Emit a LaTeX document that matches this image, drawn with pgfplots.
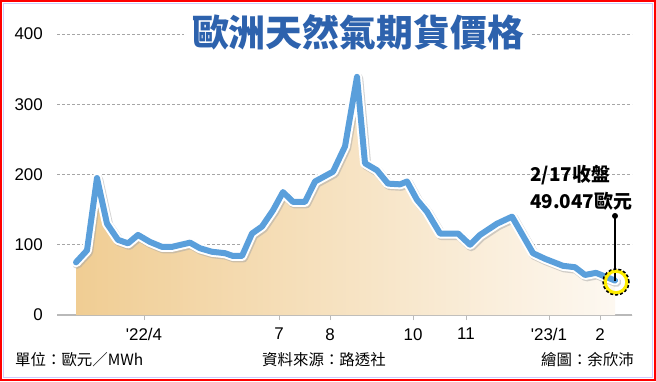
\documentclass[border=0pt]{standalone}
\usepackage{fontspec}
\setmainfont{Liberation Sans}
\newfontfamily\cjk{Noto Sans CJK TC}
\usepackage{pgfplots}
\pgfplotsset{compat=1.18}
\definecolor{lineblue}{HTML}{5A9FDB}
\definecolor{titleblue}{HTML}{2D62AD}
\definecolor{fillL}{HTML}{F0CD93}
\definecolor{fillR}{HTML}{FDF8F1}
\pgfplotstableread{
x y
76 75
87 92
97 195
107 130
118 107
128 102
138 114
150 104
162 97
172 97
190 103
200 95
212 90
225 88
233 84
242 84
252 116
262 126
273 149
283 175
293 161
305 161
315 190
333 204
345 240
357 339
365 216
377 206
388 187
400 186
407 190
417 164
427 147
440 116
458 116
470 100
480 114
497 130
512 140
533 88
545 80
563 70
575 68
585 57
596 60
615 49.047
}\gasdata
\begin{document}
\begin{tikzpicture}[x=1bp,y=1bp]
\useasboundingbox (0,0) rectangle (656,381);
\fill[white] (0,0) rectangle (656,381);
\begin{axis}[
  at={(57bp,66bp)}, anchor=south west,
  scale only axis, width=575bp, height=281bp,
  xmin=57, xmax=632, ymin=0, ymax=400,
  axis x line*=bottom, axis y line*=left,
  y axis line style={draw=none},
  x axis line style={draw=gray!55, line width=1.5bp},
  ytick={0,100,200,300,400},
  ytick style={draw=none},
  xtick={144,279,330,413,466,549,600},
  xticklabels={\textquotesingle22/4,7,8,10,11,\textquotesingle23/1,2},
  xtick style={draw=gray!55, line width=1bp},
  tick align=outside, major tick length=5bp,
  ymajorgrids,
  grid style={draw=gray!70, line width=0.6bp, dash pattern=on 3bp off 2bp},
  tick label style={font=\fontsize{17}{17}\selectfont},
  /pgf/number format/assume math mode=true,
  yticklabel style={anchor=east, inner sep=0pt, xshift=-9bp},
  xticklabel style={anchor=north, inner sep=0pt, yshift=-8bp},
  clip=false,
]
\addplot[draw=none, left color=fillL, right color=fillR] table[x=x,y=y] {\gasdata} \closedcycle;
\addplot[draw=black!35, opacity=0.5, line width=10bp, line join=round, line cap=round, xshift=1.2bp, yshift=-1.5bp] table[x=x,y=y] {\gasdata};
\addplot[draw=white, line width=10bp, line join=round, line cap=round] table[x=x,y=y] {\gasdata};
\addplot[draw=lineblue, line width=6bp, line join=round, line cap=round] table[x=x,y=y] {\gasdata};
\draw[black, line width=1.2bp] (axis cs:615,49.047) -- (axis cs:615,141);
\fill[black] (axis cs:615,141) circle (3bp);
\draw[yellow!95!orange, line width=3.5bp] (axis cs:616,47) circle (11bp);
\draw[black, line width=1.5bp, dash pattern=on 3bp off 2bp] (axis cs:616,47) circle (13bp);
\end{axis}
% title
\node[fill=white, inner xsep=8bp, inner ysep=2bp, text=titleblue] at (358,349)
  {\cjk\bfseries\fontsize{37}{37}\selectfont 歐洲天然氣期貨價格};
% annotation
\node[anchor=west, inner sep=0pt] at (530,206) {\cjk\bfseries\fontsize{19}{19}\selectfont 2/17收盤};
\node[anchor=west, inner sep=0pt] at (530,180) {\cjk\bfseries\fontsize{19}{19}\selectfont 49.047歐元};
% footer
\node[anchor=west, inner sep=0pt] at (15,21) {\cjk\fontsize{15.5}{15.5}\selectfont 單位：歐元／MWh};
\node[anchor=center, inner sep=0pt] at (324,21) {\cjk\fontsize{15.5}{15.5}\selectfont 資料來源：路透社};
\node[anchor=east, inner sep=0pt] at (634,21) {\cjk\fontsize{15.5}{15.5}\selectfont 繪圖：余欣沛};
% border
\draw[blue!20, line width=1bp] (3.5,3.5) rectangle (652.5,377.5);
\draw[red, line width=2bp] (1,1) rectangle (655,380);
\end{tikzpicture}
\end{document}
